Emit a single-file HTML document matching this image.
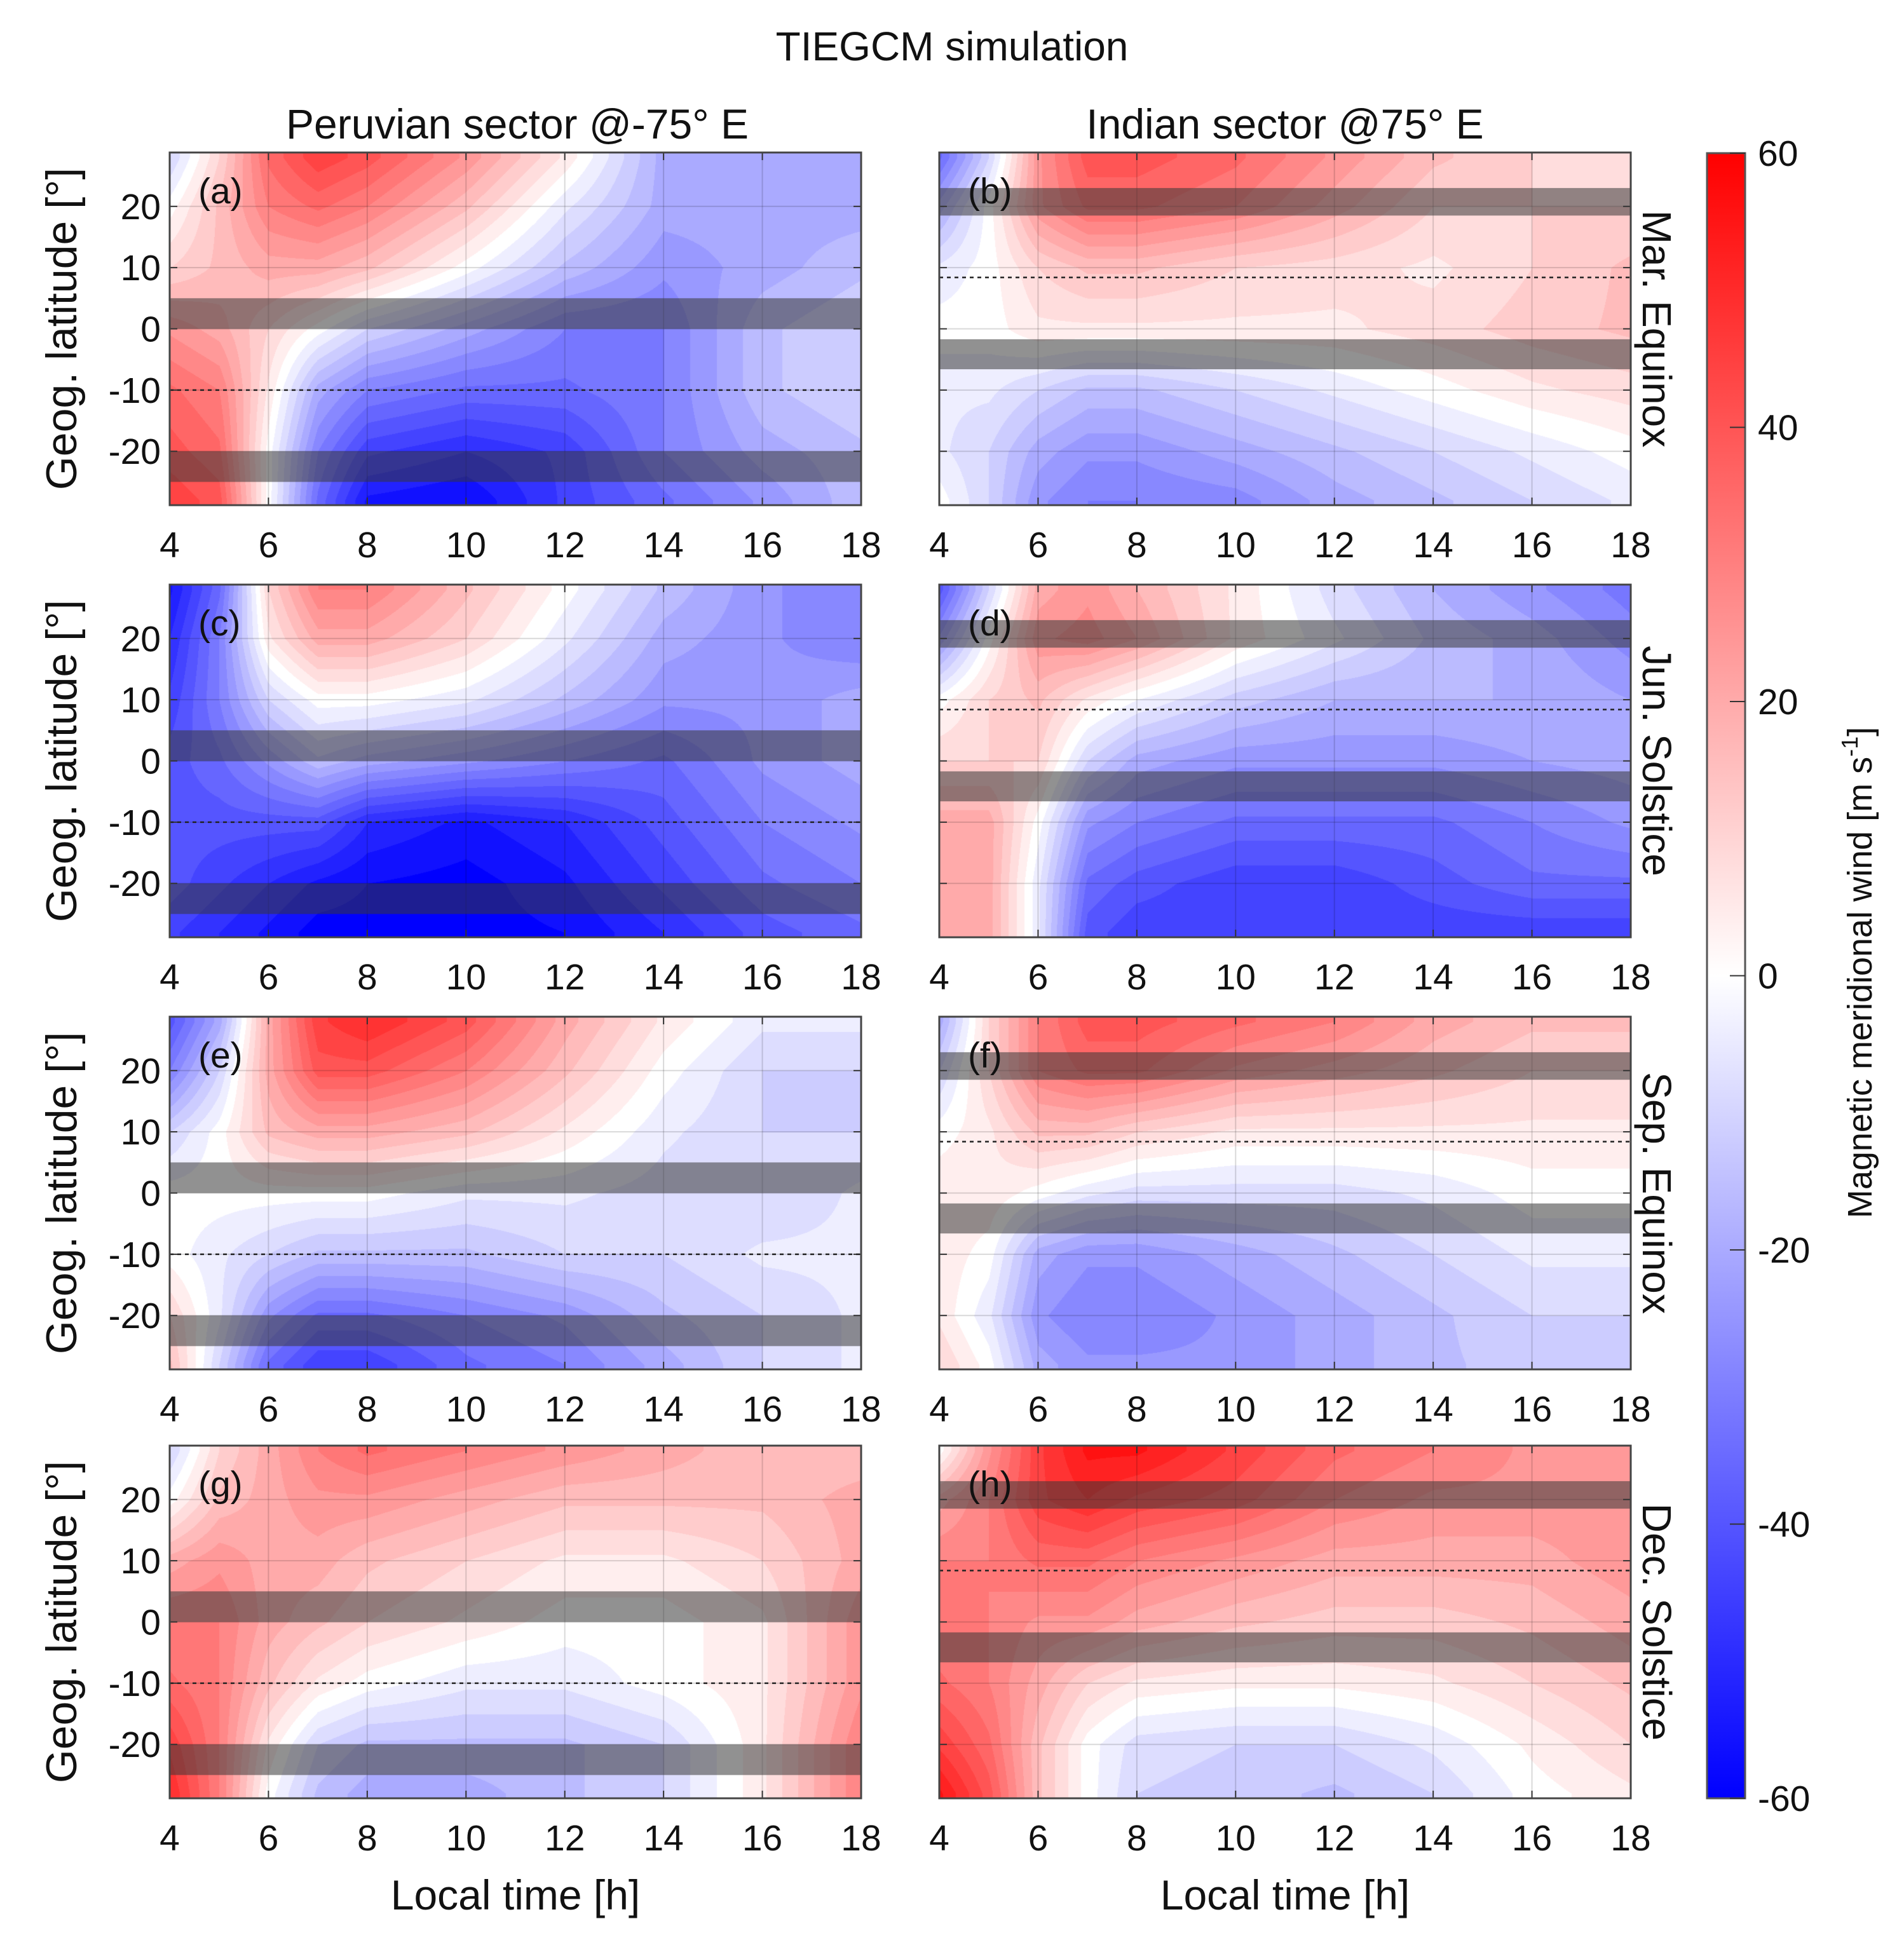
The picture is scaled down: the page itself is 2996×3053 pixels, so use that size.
<!DOCTYPE html>
<html><head><meta charset="utf-8"><style>
html,body{margin:0;padding:0;background:#fff;}
#root{position:relative;width:2996px;height:3053px;overflow:hidden;font-family:"Liberation Sans",sans-serif;}
canvas{position:absolute;}
svg{position:absolute;left:0;top:0;}
</style></head><body>
<div id="root"></div>
<script>
// ---- data ----
const times = [4,5,6,7,8,10,12,14,16,18];
const lats = [28,20,10,0,-10,-20,-28];
const xTicks = [4,6,8,10,12,14,16,18];
const yTicks = [-20,-10,0,10,20];
const cbTicks = [-60,-40,-20,0,20,40,60];
const panelA = [[-10,10,35,45,40,25,5,-20,-20,-20],[0,15,30,35,30,15,-5,-20,-20,-20],[10,15,20,20,15,0,-15,-25,-20,-15],[25,20,10,0,-10,-20,-30,-30,-15,-10],[35,30,5,-20,-30,-35,-35,-30,-15,-10],[40,35,0,-30,-45,-50,-45,-30,-20,-15],[45,40,0,-35,-55,-58,-45,-35,-25,-15]];
const panelB = [[-35,-10,25,40,40,35,25,15,10,8],[-20,0,25,35,35,30,20,10,10,10],[-5,0,10,15,15,10,8,5,10,15],[0,0,5,5,5,5,5,8,12,15],[-5,-5,-10,-15,-15,-10,-5,0,5,8],[-5,-10,-20,-25,-25,-20,-15,-10,-5,0],[0,-10,-25,-30,-30,-28,-20,-15,-10,-5]];
const panelC = [[-55,-35,10,30,30,15,0,-15,-25,-30],[-50,-30,5,20,20,10,-5,-20,-25,-30],[-45,-30,-10,0,0,-5,-15,-25,-25,-20],[-40,-35,-25,-15,-20,-25,-30,-35,-25,-20],[-40,-40,-40,-40,-50,-55,-50,-40,-30,-25],[-40,-45,-50,-55,-58,-60,-55,-45,-35,-30],[-45,-50,-55,-60,-60,-60,-58,-50,-40,-35]];
const panelD = [[-40,-10,20,25,18,5,-8,-18,-25,-32],[-25,0,25,28,22,5,-5,-15,-20,-28],[0,10,15,5,-2,-12,-18,-18,-18,-22],[10,10,10,-10,-20,-25,-25,-25,-22,-20],[20,20,0,-25,-30,-35,-35,-35,-30,-25],[20,20,-5,-35,-40,-45,-45,-40,-35,-35],[20,20,-5,-40,-45,-45,-45,-45,-45,-45]];
const panelE = [[-40,-20,20,45,50,40,20,5,-5,-5],[-30,-10,20,40,40,30,15,0,-10,-10],[-10,0,15,20,20,15,5,-5,-10,-10],[0,0,0,0,0,-5,-5,-8,-10,-5],[0,-5,-10,-15,-15,-15,-10,-10,-5,-5],[10,-5,-25,-35,-35,-30,-25,-15,-10,-5],[15,-10,-35,-45,-45,-35,-30,-20,-10,-5]];
const panelF = [[-20,10,30,40,40,35,30,20,15,15],[-10,10,30,35,35,25,20,15,10,10],[0,5,15,15,10,5,5,5,5,5],[5,5,0,-5,-8,-8,-8,-5,0,0],[5,0,-20,-25,-25,-20,-15,-10,-5,-5],[5,-5,-25,-30,-30,-25,-20,-15,-10,-10],[10,0,-20,-25,-25,-25,-20,-15,-12,-10]];
const panelG = [[-10,10,20,30,35,30,25,20,15,15],[0,15,20,25,25,20,15,15,15,20],[20,25,20,20,15,10,5,5,10,20],[30,30,20,15,10,5,0,0,5,25],[35,30,15,5,0,-5,-5,0,5,25],[45,30,5,-10,-15,-15,-15,-10,5,30],[50,30,0,-15,-20,-20,-15,-10,5,30]];
const panelH = [[0,25,45,55,55,45,35,30,25,25],[20,30,45,50,45,40,30,25,25,25],[30,30,35,35,30,25,20,20,20,25],[30,30,25,25,20,15,12,12,15,20],[35,30,20,10,5,3,3,5,10,15],[45,35,15,0,-8,-10,-10,-5,3,10],[55,40,15,0,-10,-12,-15,-10,0,5]];
const leftBands = [[0,5],[-25,-20]];
const rightBands = [[18.5,23],[-6.6,-1.7]];
const leftDash = -10, rightDash = 8.4;

// ---- layout ----
const colX = [267,1478], W = 1088;
const rowY = [240,920,1600,2275], H = 555;
const LATMAX = 28.8;
const panels = [
 {d:panelA,c:0,r:0,l:'(a)'},{d:panelB,c:1,r:0,l:'(b)'},
 {d:panelC,c:0,r:1,l:'(c)'},{d:panelD,c:1,r:1,l:'(d)'},
 {d:panelE,c:0,r:2,l:'(e)'},{d:panelF,c:1,r:2,l:'(f)'},
 {d:panelG,c:0,r:3,l:'(g)'},{d:panelH,c:1,r:3,l:'(h)'}];
const seasons = ['Mar. Equinox','Jun. Solstice','Sep. Equinox','Dec. Solstice'];
const root = document.getElementById('root');
const NS='http://www.w3.org/2000/svg';
function xs(t,x0){return x0+(t-4)/14*W;}
function ys(l,y0){return y0+(LATMAX-l)/(2*LATMAX)*H;}
function col(v){let t=Math.max(-1,Math.min(1,v/60));
 if(t<0){let k=Math.round(255*(1+t));return [k,k,255];}
 let k=Math.round(255*(1-t));return [255,k,k];}
function interp(d,t,l){
 let i=0;while(i<times.length-2&&t>times[i+1])i++;
 let j=0;while(j<lats.length-2&&l<lats[j+1])j++;
 let ft=(t-times[i])/(times[i+1]-times[i]);ft=Math.max(0,Math.min(1,ft));
 let fl=(lats[j]-l)/(lats[j]-lats[j+1]);fl=Math.max(0,Math.min(1,fl));
 let a=d[j][i]*(1-ft)+d[j][i+1]*ft, b=d[j+1][i]*(1-ft)+d[j+1][i+1]*ft;
 return a*(1-fl)+b*fl;}
const svg=document.createElementNS(NS,'svg');
svg.setAttribute('width','2996');svg.setAttribute('height','3053');
function el(tag,attrs,parent,text){const e=document.createElementNS(NS,tag);for(const k in attrs)e.setAttribute(k,attrs[k]);if(text!==undefined)e.textContent=text;(parent||svg).appendChild(e);return e;}
panels.forEach((p,pi)=>{
 const x0=colX[p.c], y0=rowY[p.r];
 const cv=document.createElement('canvas');
 
 
 cv.width=W;cv.height=H;cv.style.left=x0+'px';cv.style.top=y0+'px';
 const ctx=cv.getContext('2d');const img=ctx.createImageData(W,H);
 for(let y=0;y<H;y++){const l=LATMAX-y/H*2*LATMAX;
  for(let x=0;x<W;x++){const t=4+x/W*14;let v=interp(p.d,t,l);
   v=Math.sign(v)*Math.floor(Math.abs(v)/4+0.5)*4;
   const c=col(v);const k=(y*W+x)*4;img.data[k]=c[0];img.data[k+1]=c[1];img.data[k+2]=c[2];img.data[k+3]=255;}}
 ctx.putImageData(img,0,0);root.appendChild(cv);
});
root.appendChild(svg);
const title=el('text',{x:1498,y:95,'font-size':64,'text-anchor':'middle',fill:'#111'},svg,'TIEGCM simulation');

const t1=el('text',{x:814,y:218,'font-size':66,'text-anchor':'middle',fill:'#111'},svg,'Peruvian sector @-75° E');

const t2=el('text',{x:2022,y:218,'font-size':66,'text-anchor':'middle',fill:'#111'},svg,'Indian sector @75° E');

panels.forEach((p)=>{
 const x0=colX[p.c], y0=rowY[p.r];
 const g=el('g',{});
 xTicks.forEach(t=>{const x=xs(t,x0);el('line',{x1:x,x2:x,y1:y0,y2:y0+H,stroke:'rgba(0,0,0,0.15)','stroke-width':2},g);
  el('line',{x1:x,x2:x,y1:y0+H,y2:y0+H-12,stroke:'#333','stroke-width':2},g);el('line',{x1:x,x2:x,y1:y0,y2:y0+12,stroke:'#333','stroke-width':2},g);
  const tl=el('text',{x:x,y:y0+H+82,'font-size':57,'text-anchor':'middle',fill:'#111'},g,String(t));});
 yTicks.forEach(l=>{const y=ys(l,y0);el('line',{x1:x0,x2:x0+W,y1:y,y2:y,stroke:'rgba(0,0,0,0.15)','stroke-width':2},g);
  el('line',{x1:x0,x2:x0+12,y1:y,y2:y,stroke:'#333','stroke-width':2},g);el('line',{x1:x0+W,x2:x0+W-12,y1:y,y2:y,stroke:'#333','stroke-width':2},g);
  if(p.c===0){const tl=el('text',{x:x0-14,y:y+20,'font-size':57,'text-anchor':'end',fill:'#111'},g,String(l));}});
 const bands=p.c===0?leftBands:rightBands;
 bands.forEach(b=>{const ya=ys(b[1],y0),yb=ys(b[0],y0);const r=el('rect',{x:x0,y:ya,width:W,height:yb-ya,fill:'rgba(55,55,55,0.55)'},g);});
 const dy=ys(p.c===0?leftDash:rightDash,y0);
 const dl=el('line',{x1:x0,x2:x0+W,y1:dy,y2:dy,stroke:'#222','stroke-width':2.5,'stroke-dasharray':'6,6'},g);
 el('rect',{x:x0,y:y0,width:W,height:H,fill:'none',stroke:'#444','stroke-width':3},g);
 const pl=el('text',{x:x0+45,y:y0+80,'font-size':57,fill:'#111'},g,p.l);
 if(p.c===0){const yl=el('text',{x:0,y:0,'font-size':68,'text-anchor':'middle',fill:'#111',transform:`translate(120,${y0+H/2}) rotate(-90)`},g,'Geog. latitude [°]');}
 else{const sl=el('text',{x:0,y:0,'font-size':64,'text-anchor':'middle',fill:'#111',transform:`translate(2585,${y0+H/2}) rotate(90)`},g,seasons[p.r]);}
 if(p.r===3){const xl=el('text',{x:x0+W/2,y:3005,'font-size':66,'text-anchor':'middle',fill:'#111'},g,'Local time [h]');}
});
// colorbar
const cbx=2686,cbw=60,cby=241,cbh=2589;
const defs=el('defs',{});const lg=el('linearGradient',{id:'cbg',x1:0,y1:0,x2:0,y2:1},defs);
el('stop',{offset:'0','stop-color':'rgb(255,0,0)'},lg);el('stop',{offset:'0.5','stop-color':'#fff'},lg);el('stop',{offset:'1','stop-color':'rgb(0,0,255)'},lg);
const cb=el('rect',{x:cbx,y:cby,width:cbw,height:cbh,fill:'url(#cbg)',stroke:'#555','stroke-width':3});

cbTicks.forEach(v=>{const y=cby+(60-v)/120*cbh;el('line',{x1:cbx+cbw-24,x2:cbx+cbw,y1:y,y2:y,stroke:'#333','stroke-width':2});
 const tl=el('text',{x:cbx+cbw+20,y:y+20,'font-size':57,fill:'#111'},svg,String(v));});
const cbl=el('text',{x:0,y:0,'font-size':54,'text-anchor':'middle',fill:'#111',transform:`translate(2945,${cby+cbh/2-5}) rotate(-90)`});

cbl.appendChild(document.createTextNode('Magnetic meridional wind [m s'));
const sup=el('tspan',{dy:-22,'font-size':36},cbl,'-1');
const rest=el('tspan',{dy:22},cbl,']');
</script>
</body></html>
